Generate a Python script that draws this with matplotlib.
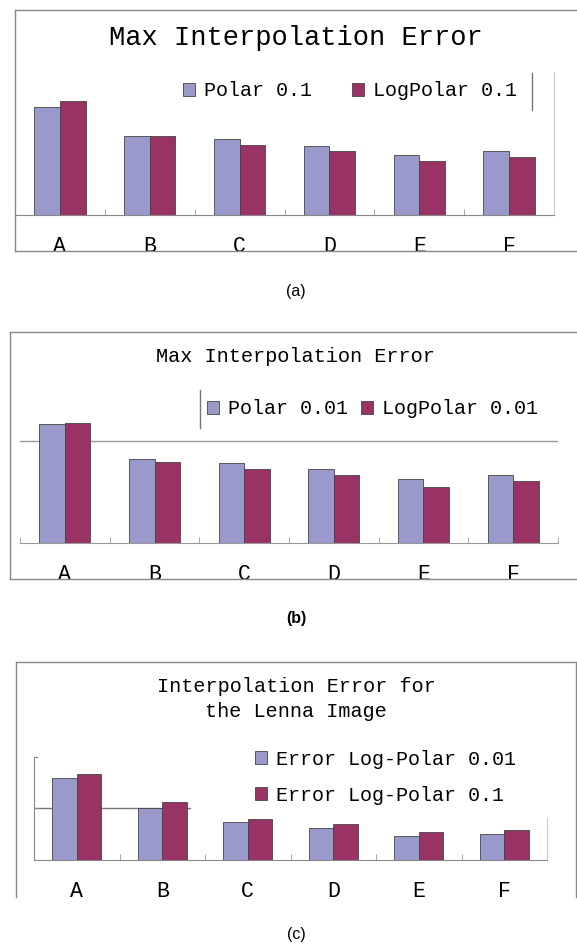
import matplotlib.pyplot as plt
import numpy as np
from matplotlib.lines import Line2D

W, H = 577, 950
MONO = 'Liberation Mono'
SANS = 'Liberation Sans'
C_POLAR = '#9999CC'
C_LOG = '#993366'
EDGE = '#444444'

categories = ['A', 'B', 'C', 'D', 'E', 'F']

# (a) max interpolation error, step 0.1
polar_01 = [1.51, 1.11, 1.06, 0.96, 0.84, 0.90]
logpolar_01 = [1.60, 1.10, 0.98, 0.90, 0.76, 0.81]

# (b) max interpolation error, step 0.01
polar_001 = [1.17, 0.83, 0.79, 0.73, 0.63, 0.67]
logpolar_001 = [1.18, 0.80, 0.73, 0.67, 0.55, 0.61]

# (c) interpolation error for the Lenna image
lenna_001 = [1.59, 1.00, 0.73, 0.62, 0.46, 0.50]
lenna_01 = [1.67, 1.12, 0.80, 0.70, 0.55, 0.58]


def fx(px):
    return px / W


def fy(py):
    return 1 - py / H


def box(l, t, r, b):
    return [fx(l), fy(b), (r - l) / W, (b - t) / H]


def line(x1, y1, x2, y2, color='#888888', lw=1.0):
    fig.add_artist(Line2D([fx(x1), fx(x2)], [fy(y1), fy(y2)],
                          transform=fig.transFigure, color=color, lw=lw))


def bar_pair(ax, s1, s2, l1, l2, ymax):
    x = np.arange(len(categories))
    w = 1 / 3.5
    ax.bar(x - w / 2, s1, w, color=C_POLAR, edgecolor=EDGE, lw=0.6, label=l1, zorder=2)
    ax.bar(x + w / 2, s2, w, color=C_LOG, edgecolor=EDGE, lw=0.6, label=l2, zorder=2)
    ax.set_xlim(-0.5, len(categories) - 0.5)
    ax.set_ylim(0, ymax)
    ax.set_xticks(x)
    ax.set_xticklabels(categories, family=MONO, fontsize=15.5)
    ax.tick_params(axis='x', which='major', length=0, pad=15)
    ax.set_xticks(np.arange(-0.5, len(categories), 1), minor=True)
    ax.tick_params(axis='x', which='minor', direction='in', length=4, color='#999999')
    ax.set_yticks([])
    for s in ax.spines.values():
        s.set_visible(False)
    ax.spines['bottom'].set_visible(True)
    ax.spines['bottom'].set_color('#888888')


def legend(ax, x, y, ncol, colsp, labelsp=0.5):
    ax.legend(ncol=ncol, loc='center left', bbox_to_anchor=(fx(x), fy(y)),
              bbox_transform=fig.transFigure, frameon=False, borderpad=0,
              borderaxespad=0, handlelength=0.6, handleheight=0.6,
              handletextpad=0.45, columnspacing=colsp, labelspacing=labelsp,
              prop={'family': MONO, 'size': 14.4})


fig = plt.figure(figsize=(W / 100, H / 100), dpi=100)

# ---- (a) ----
ax = fig.add_axes(box(15, 72, 554, 215))
bar_pair(ax, polar_01, logpolar_01, 'Polar 0.1', 'LogPolar 0.1', 2.0)
ax.spines['right'].set_visible(True)
ax.spines['right'].set_color('#cccccc')
legend(ax, 183, 91, 2, 2.0)
line(532, 73, 532, 110, '#777777')
fig.text(fx(295.5), fy(38), 'Max Interpolation Error', family=MONO, fontsize=19.5,
         ha='center', va='center')
line(14.8, 10, 14.8, 251)
line(14.8, 10, 580, 10)
line(14.8, 251, 580, 251)
fig.text(fx(296), fy(292), '(a)', family=SANS, fontsize=11.5, ha='center', va='center')

# ---- (b) ----
ax = fig.add_axes(box(20, 380, 558, 543.3))
bar_pair(ax, polar_001, logpolar_001, 'Polar 0.01', 'LogPolar 0.01', 1.6)
ax.axhline(1, color='#999999', lw=1, zorder=0.5)
ax.spines['bottom'].set_color('#999999')
legend(ax, 207, 409, 2, 0.65)
line(200, 390, 200, 428, '#777777')
fig.text(fx(295), fy(356.7), 'Max Interpolation Error', family=MONO, fontsize=14.6,
         ha='center', va='center')
line(10.4, 331.7, 10.4, 579.3)
line(10.4, 331.7, 580, 331.7)
line(10.4, 579.3, 580, 579.3)
fig.text(fx(296), fy(618), '(b)', family=SANS, fontsize=11.5, fontweight='bold',
         ha='center', va='center')

# ---- (c) ----
ax = fig.add_axes(box(34, 756.7, 547, 860))
bar_pair(ax, lenna_001, lenna_01, 'Error Log-Polar 0.01', 'Error Log-Polar 0.1', 2.0)
ax.axhline(1, xmax=(189.5 - 34) / (547 - 34), color='#777777', lw=1, zorder=0.5)
ax.spines['left'].set_visible(True)
ax.spines['left'].set_color('#888888')
ax.spines['right'].set_visible(True)
ax.spines['right'].set_color('#cccccc')
ax.spines['right'].set_bounds(0, 0.81)
ax.set_yticks([1, 2])
ax.tick_params(axis='y', direction='in', length=3, color='#888888', labelleft=False)
legend(ax, 255, 777.3, 1, 0.5, 0.85)
fig.text(fx(296), fy(699), 'Interpolation Error for\nthe Lenna Image', family=MONO,
         fontsize=14.5, ha='center', va='center', linespacing=1.35)
line(15.6, 661.7, 15.6, 896.7)
line(15.6, 661.7, 576, 661.7)
line(576, 661.7, 576, 896.7)
fig.text(fx(296), fy(935), '(c)', family=SANS, fontsize=11.5, ha='center', va='center')

fig.savefig('out.png', dpi=100)
